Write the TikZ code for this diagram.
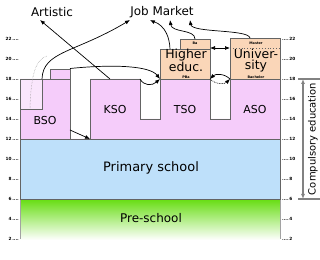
\documentclass[tikz,border=0pt]{standalone}
\usepackage{fontspec}
\setmainfont{DejaVu Sans}
\usetikzlibrary{arrows.meta}
\definecolor{secpink}{RGB}{245,204,250}
\definecolor{secpinklight}{RGB}{250,230,252}
\definecolor{primblue}{RGB}{190,224,250}
\definecolor{highpeach}{RGB}{250,214,184}
\definecolor{pregreen}{RGB}{102,221,17}
\definecolor{edgegray}{RGB}{100,100,100}
\definecolor{brackgray}{RGB}{130,130,130}

\begin{document}
\begin{tikzpicture}[x=1bp,y=10bp,>={Latex[length=5bp,width=4bp]},
  edge/.style={draw=edgegray,line width=0.9bp},
  conn/.style={->,line width=0.7bp},
  big/.style={font=\fontsize{13}{12}\selectfont,inner sep=0pt},
  hedu/.style={font=\fontsize{12.5}{11}\selectfont,inner sep=0pt,align=center},
  mid/.style={font=\fontsize{12}{13}\selectfont,inner sep=0pt},
  sec/.style={font=\fontsize{11}{12}\selectfont,inner sep=0pt},
  tinylbl/.style={font=\fontsize{3.4}{4}\selectfont\bfseries,inner sep=0pt},
  agelbl/.style={font=\fontsize{4.3}{5}\selectfont\bfseries,inner sep=0pt}]
  \useasboundingbox (0,-0.1) rectangle (320,25.9);

  % age scales
  \foreach \a in {2,4,...,22}{
    \node[agelbl,anchor=east] (agel\a) at (19,\a) {\a\,....};
    \node[agelbl,anchor=west] (ager\a) at (282,\a) {....\,\a};
  }

  % pre-school and primary
  \shade[top color=pregreen,middle color=pregreen!45,bottom color=white] (20,1.9) rectangle (280,6);
  \draw[edgegray!60,line width=0.9bp] (20,2) -- (20,6) (280,2) -- (280,6);
  \draw[green!50!black,line width=1.2bp] (20,5.93) -- (280,5.93);
  \filldraw[fill=primblue,edge] (20,6) rectangle (280,12);
  \node[mid] (pre) at (151,4.1) {Pre-school};
  \node[big] (prim) at (151,9.1) {Primary school};

  % secondary
  \filldraw[fill=secpink,edge] (20,12) -- (20,18) -- (70,18) -- (70,12) -- (90,12) -- (90,18)
    -- (140,18) -- (140,14) -- (160,14) -- (160,18) -- (210,18) -- (210,14) -- (230,14)
    -- (230,18) -- (280,18) -- (280,12) -- cycle;
  \filldraw[fill=secpinklight,edge] (20,15) rectangle (42,18);
  \filldraw[fill=secpink,edge] (50,18) rectangle (70,19);
  \node[sec] (bso) at (45,13.8) {BSO};
  \node[sec] (kso) at (115,14.9) {KSO};
  \node[sec] (tso) at (185,14.9) {TSO};
  \node[sec] (aso) at (255,14.9) {ASO};

  % higher education
  \filldraw[fill=highpeach,edge] (160,18) rectangle (210,21);
  \filldraw[fill=highpeach,edge] (180,21) rectangle (210,22);
  \filldraw[fill=highpeach,edge] (230,18) rectangle (280,22.1);
  \draw[edgegray,dotted,line width=0.9bp] (230,21.1) -- (280,21.1);
  \node[hedu] (hoger) at (186,19.9) {Higher\\educ.};
  \node[tinylbl] (pba) at (186,18.22) {PBa};
  \node[tinylbl] (baba) at (195,21.55) {Ba};
  \node[hedu] (univ) at (256,19.85) {Univer-\\sity};
  \node[tinylbl] (master) at (256,21.55) {Master};
  \node[tinylbl] (bachelor) at (256,18.22) {Bachelor};

  % destinations
  \node[mid] (artistic) at (52,24.7) {Artistic};
  \node[mid] (job) at (162,24.7) {Job Market};

  \coordinate (kTop) at (110,18);
  \coordinate (bTop) at (42,18);
  \coordinate (bLow) at (30,15.1);
  \coordinate (bBox) at (70,19.05);
  \coordinate (kCorner) at (140,18);
  \coordinate (hIn) at (160,18);
  \coordinate (hTop) at (170,21);
  \coordinate (hSmall) at (195,22);
  \coordinate (uTop) at (250,22.1);
  \coordinate (hRight) at (210,21.1);
  \coordinate (uLeft) at (230,21.1);
  \coordinate (tR) at (210,18);
  \coordinate (aL) at (230,18);
  \coordinate (bsoSide) at (70,12.9);
  \coordinate (ksoSide) at (90,12);

  \draw[conn] (kTop) -- (40,23.9);
  \draw[conn] (bTop) .. controls (43,20.8) and (75,20.6) .. (130,23.9);
  \draw[edgegray!70,densely dotted,line width=0.5bp] (bLow) .. controls (31,18.5) and (36,20) .. (47,20.3);
  \draw[conn] (bBox) .. controls (115,19.5) and (150,19.3) .. (hIn);
  \draw[conn] (kCorner) .. controls (144,17.3) and (152,17.3) .. (hIn);
  \draw[conn] (hTop) .. controls (169,23.5) and (152,23.8) .. (150,23.9);
  \draw[conn] (hSmall) .. controls (195,23) and (172,22.6) .. (170,23.9);
  \draw[conn] (uTop) .. controls (248,23) and (192,22.6) .. (190,23.9);
  \draw[<->,line width=0.7bp] (hRight) -- (uLeft);
  \draw[conn] (aL) to[bend right=45] (tR);
  \draw[conn,densely dotted] (tR) to[bend right=45] (aL);
  \draw[conn] (bsoSide) -- (ksoSide);

  % compulsory education
  \draw[brackgray,line width=1.2bp] (298,18) -- (320,18) (298,6) -- (320,6);
  \draw[<->,brackgray,line width=1.2bp] (303,18) -- (303,6);
  \node[font=\fontsize{10}{11}\selectfont,rotate=90,inner sep=0pt] (compul) at (313,12) {Compulsory education};
\end{tikzpicture}
\end{document}
